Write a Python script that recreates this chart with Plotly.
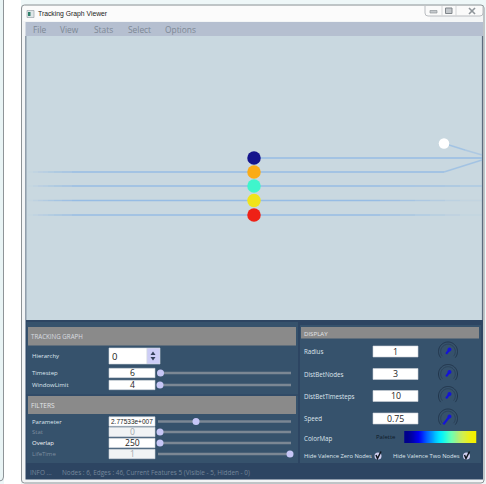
import numpy as np
import plotly.graph_objects as go

# ---- data ----
node_x = [254, 254, 254, 254, 254, 444]
node_y = [158, 172, 186, 200.5, 215, 143.5]
node_colors = ["#14148c", "#fbab16", "#3ff5cc", "#f0e41a", "#ee2116", "#ffffff"]
node_sizes = [13.5, 13.5, 13.5, 13.5, 13.5, 10.5]

# fade stops of the edge ends
left_x = [28, 33, 38, 43, 48, 54, 62, 72, 254]
left_a = [.08, .2, .32, .45, .58, .7, .85, 1]
right_x = [254, 380, 400, 415, 430, 445, 460, 482]
right_a = [1, .85, .7, .55, .4, .25, .12]

# edges: (xs, ys, alpha per segment)
edge_paths = [
    ([254, 482], [158, 158], [1]),
    (left_x + [444, 482], [172] * 10 + [160], left_a + [1, .75]),
    (left_x + right_x[1:], [186] * 16, left_a + [1, .95, .9, .85, .8, .7, .6]),
    (left_x + right_x[1:], [200.5] * 16, left_a + right_a),
    (left_x + right_x[1:], [215] * 16, left_a + right_a),
    ([449, 465, 482], [145, 150, 155], [.75, .55]),
]

menu_items = ["File", "View", "Stats", "Select", "Options"]
menu_pos = [39.5, 69.5, 103, 139, 180]

palette_vals = list(range(13))
palette_colors = ["#00008c", "#0000b4", "#0000f0", "#0040ff", "#0080ff", "#00c0ff", "#00f0ff",
                  "#30ffd8", "#70ffb0", "#a8f080", "#d0f050", "#e8f020", "#f4f000"]

left_labels = [("Hierarchy", 356), ("Timestep", 373), ("WindowLimit", 385), ("Parameter", 421.5)]
left_dim = [("Stat", 432), ("LifeTime", 454)]
left_fields = [("6", 373, 1), ("4", 385, 1), ("2.77533e+007", 421.5, 1), ("0", 432, 0), ("250", 443, 1), ("1", 454, 0)]
slider_rows = [(373, 160.5), (385, 160), (421.5, 196), (432, 160), (443, 160), (454, 290)]
right_labels = [("Radius", 351.5), ("DistBetNodes", 374), ("DistBetTimesteps", 396), ("Speed", 418.5)]
right_values = ["1", "3", "10", "0.75"]
dial_len = [5.5, 5.5, 5.5, 10]

FONT = "Open Sans"
shapes, notes = [], []


def rect(x0, y0, x1, y1, fill, line=None, lw=1, layer="below"):
    shapes.append(dict(type="rect", x0=x0, y0=y0, x1=x1, y1=y1, fillcolor=fill, layer=layer,
                       line=dict(color=line or fill, width=lw if line else 0)))


def txt(x, y, s, size=8, color="#dfe6ee", anchor="left", family=FONT):
    notes.append(dict(x=x, y=y, text=s, showarrow=False, xanchor=anchor, yanchor="middle",
                      font=dict(size=size, color=color, family=family), borderpad=0, borderwidth=0))


def rpath(x0, y0, x1, y1, r):
    return (f"M{x0+r},{y0} L{x1-r},{y0} Q{x1},{y0} {x1},{y0+r} L{x1},{y1-r} Q{x1},{y1} {x1-r},{y1} "
            f"L{x0+r},{y1} Q{x0},{y1} {x0},{y1-r} L{x0},{y0+r} Q{x0},{y0} {x0+r},{y0} Z")


# page + neighbouring window strip
rect(0, 0, 486, 484, "#eef7f8")
shapes.append(dict(type="path", path=rpath(-20, -10, 3.5, 481, 4), fillcolor="#e9f4f5", layer="below",
                   line=dict(color="#8e9498", width=1)))
rect(4, 0, 21, 484, "#ffffff")
# main window frame
shapes.append(dict(type="path", path=rpath(21.5, 5, 484, 483, 3), fillcolor="#f3f5f6", layer="below",
                   line=dict(color="#8d9396", width=1)))
rect(23, 6, 430, 21, "#fbfbfb")
# title-bar buttons
shapes.append(dict(type="path", path="M425,6 L425,13 Q425,16 428,16 L480,16 Q483,16 483,13 L483,6",
                   fillcolor="#fafafa", layer="below", line=dict(color="#b9bcc0", width=1)))
shapes.append(dict(type="line", x0=442, x1=442, y0=6, y1=16, layer="below", line=dict(color="#d4d6d8", width=1)))
shapes.append(dict(type="line", x0=456, x1=456, y0=6, y1=16, layer="below", line=dict(color="#d4d6d8", width=1)))
rect(430, 10.5, 437, 13, "#c4c8cc", "#8f959a", .7)
rect(445.5, 8, 452, 13.5, "#c4c8cc", "#80868b", 1)
shapes.append(dict(type="line", x0=469, x1=475, y0=8, y1=14, layer="below", line=dict(color="#8f959a", width=1.6)))
shapes.append(dict(type="line", x0=469, x1=475, y0=14, y1=8, layer="below", line=dict(color="#8f959a", width=1.6)))
# title icon
rect(27, 10.5, 34, 17.5, "#dfe6e8", "#9aa4aa", .7)
rect(28, 12, 30.5, 16, "#2f7f6a")
txt(38, 13.5, "Tracking Graph Viewer", 6.8, "#222222", family="Liberation Sans")

# menu + canvas + bottom panel
rect(25.5, 22, 483, 36, "#b5bfd0")
rect(25.5, 36, 483, 320, "#c9d8e0")
shapes.append(dict(type="line", x0=25.8, x1=25.8, y0=36, y1=320, layer="below", line=dict(color="#7d8c9c", width=1.2)))
shapes.append(dict(type="line", x0=482.5, x1=482.5, y0=36, y1=320, layer="below", line=dict(color="#5c6c7e", width=1.2)))
for s, x in zip(menu_items, menu_pos):
    txt(x, 29, s, 8.4, "#7d8895", "center")
rect(25.5, 320, 483, 479.5, "#2d4562")
rect(26.5, 322, 298, 394.5, "#36526c")
rect(26.5, 395.5, 298, 463, "#36526c")
rect(300, 325, 481, 463, "#36526c")
rect(28, 327, 296, 345.5, "#8a8a8a")
rect(28, 396, 296, 414, "#8a8a8a")
rect(301, 327, 479, 338.5, "#8a8a8a")
txt(31, 336.5, "TRACKING GRAPH", 6.2, "#d9dde0")
txt(31, 405, "FILTERS", 6.6, "#e2e5e8")
txt(304, 333, "DISPLAY", 6.1, "#e2e5e8")

for s, y in left_labels:
    txt(32, y, s, 6)
txt(32, 443, "Overlap", 6, "#f3f5f7")
for s, y in left_dim:
    txt(32, y, s, 6, "#7d8d9f")

# spin box
rect(109, 348, 147, 364, "#ffffff", "#d4dae0", .6)
rect(147, 348, 160, 364, "#cdcdf6", "#d4dae0", .6)
txt(112, 356, "0", 9.5, "#222222")
shapes.append(dict(type="path", path="M150.5,355 L153,351.5 L155.5,355 Z", fillcolor="#34405a", layer="below", line=dict(width=0)))
shapes.append(dict(type="path", path="M150.5,357 L153,360.5 L155.5,357 Z", fillcolor="#34405a", layer="below", line=dict(width=0)))

for (s, y, on), (ys, hx) in zip(left_fields, slider_rows):
    rect(109, y - 4.7, 155, y + 4.7, "#ffffff" if on else "#f1f3f5", "#c9d0d6", .6)
    long = len(s) > 6
    txt(132, y, s, 6.5 if long else 8.6, "#1c1c1c" if on else "#a5a9ad", "center",
        family="Liberation Sans" if long else FONT)
    sx0 = 158 + (1 if y < 400 else 0)
    shapes.append(dict(type="line", x0=sx0, x1=291, y0=ys, y1=ys, layer="below", line=dict(color="#7b8794", width=2.6)))

for (s, y), v, ln in zip(right_labels, right_values, dial_len):
    txt(304, y, s, 6.2)
    rect(373, y - 5.5, 418, y + 5.5, "#ffffff", "#ccd2d8", .6)
    txt(395.5, y, v, 8.8, "#1c1c1c", "center")
    t = np.radians(np.linspace(140, 400, 40))
    for r, c, w in [(9.5, "#22364c", 1.0), (7.3, "#2c4258", 1.0)]:
        px, py = 448 + r * np.cos(t), y + r * np.sin(t)
        shapes.append(dict(type="path", path="M" + " L".join(f"{a:.2f},{b:.2f}" for a, b in zip(px, py)),
                           line=dict(color=c, width=w), layer="below"))
    ang = np.radians(128)
    shapes.append(dict(type="line", x0=449.5, y0=y - 2, x1=449.5 + ln * np.cos(ang), y1=y - 2 + ln * np.sin(ang),
                       layer="below", line=dict(color="#1414d8", width=2.2)))
    shapes.append(dict(type="circle", x0=447.5, x1=451.5, y0=y - 4, y1=y, fillcolor="#1414d8", layer="below", line=dict(width=0)))

txt(304, 438, "ColorMap", 6.2)
txt(376, 437, "Palette", 6, "#0e1a28")
txt(304, 456, "Hide Valence Zero Nodes", 5.8)
txt(393, 456, "Hide Valence Two Nodes", 5.8)
for cx in (378, 466.5):
    shapes.append(dict(type="circle", x0=cx - 3.5, x1=cx + 3.5, y0=452.5, y1=459.5, fillcolor="#cfcdee", layer="below", line=dict(width=0)))
    shapes.append(dict(type="path", path=f"M{cx-2},455 L{cx-.5},458.5 L{cx+3},451.5", layer="below", line=dict(color="#10161e", width=1.5)))
txt(30, 472, "INFO ...", 6.4, "#75879b")
txt(61.5, 472, "Nodes : 6, Edges : 46, Current Features 5 (Visible - 5, Hidden - 0)", 6.4, "#75879b")

fig = go.Figure()

# palette bar
fig.add_trace(go.Heatmap(z=[palette_vals], x0=404 + 3, dx=5.5, y0=437, dy=12, showscale=False, hoverinfo="skip",
                         colorscale=[[i / 12, c] for i, c in enumerate(palette_colors)], zsmooth="best"))

# edges
for xs, ys, alphas in edge_paths:
    for i, a in enumerate(alphas):
        fig.add_trace(go.Scatter(x=xs[i:i + 2], y=ys[i:i + 2], mode="lines", hoverinfo="skip", showlegend=False,
                                 line=dict(color=f"rgba(150,188,228,{a})", width=1.4)))

# nodes
fig.add_trace(go.Scatter(x=node_x, y=node_y, mode="markers", hoverinfo="skip", showlegend=False,
                         marker=dict(color=node_colors, size=node_sizes, opacity=1, line=dict(width=0))))

# slider handles
fig.add_trace(go.Scatter(x=[r[1] for r in slider_rows], y=[r[0] for r in slider_rows], mode="markers",
                         hoverinfo="skip", showlegend=False,
                         marker=dict(color="#c6c6f6", size=7, opacity=1, line=dict(width=0))))

fig.update_layout(
    width=486, height=484, margin=dict(l=0, r=0, t=0, b=0), paper_bgcolor="white", plot_bgcolor="white",
    showlegend=False, shapes=shapes, annotations=notes,
    xaxis=dict(range=[0, 486], visible=False, fixedrange=True),
    yaxis=dict(range=[484, 0], visible=False, fixedrange=True),
)
fig.write_html("out.html", config=dict(displayModeBar=False),
               post_script="document.documentElement.style.margin='0';document.body.style.margin='0';document.body.style.overflow='hidden';")
